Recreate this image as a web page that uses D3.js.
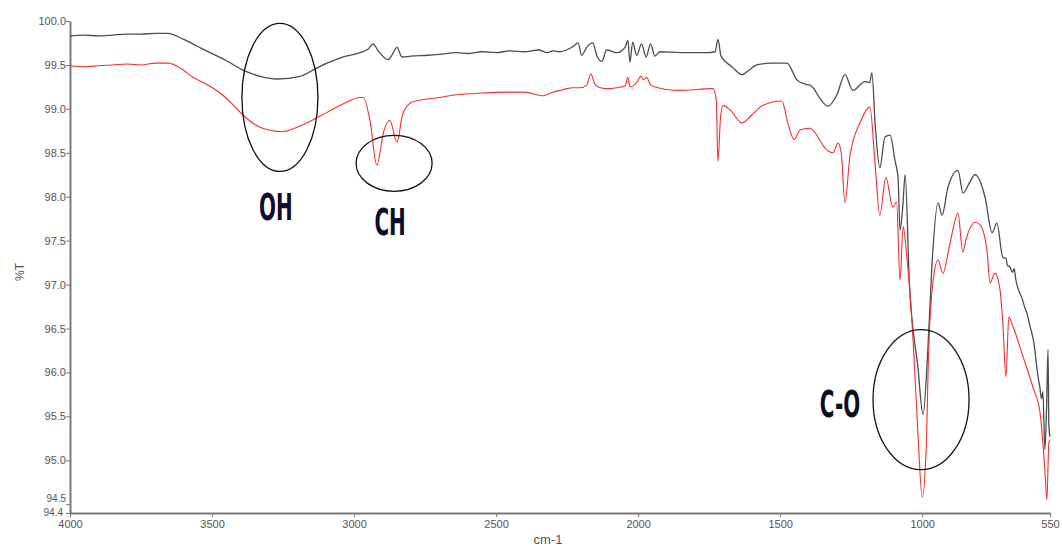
<!DOCTYPE html>
<html>
<head>
<meta charset="utf-8">
<script src="https://cdn.jsdelivr.net/npm/d3@7"></script>
<style>
body { margin: 0; background: #fff; }
svg { display: block; }
</style>
</head>
<body>
<svg id="chart" width="1062" height="548"></svg>
<script>
// wavenumber (cm-1), %T
var blackSpectrum = [
	[4000, 99.83], [3950, 99.84], [3900, 99.83], [3850, 99.84], [3800, 99.85],
	[3750, 99.85], [3700, 99.86], [3655, 99.86], [3600, 99.79], [3550, 99.71],
	[3507, 99.64], [3450, 99.55], [3391, 99.44], [3330, 99.37], [3271, 99.34],
	[3190, 99.37], [3140, 99.45], [3095, 99.52], [3040, 99.59], [2979, 99.64],
	[2950, 99.68], [2933, 99.74], [2915, 99.66], [2880, 99.56], [2865, 99.62],
	[2849, 99.70], [2831, 99.59], [2800, 99.60], [2740, 99.61], [2700, 99.62],
	[2638, 99.64], [2600, 99.63], [2550, 99.65], [2500, 99.64], [2450, 99.66],
	[2400, 99.65], [2350, 99.67], [2320, 99.64], [2300, 99.66], [2275, 99.65],
	[2252, 99.67], [2229, 99.71], [2211, 99.75], [2199, 99.61], [2181, 99.70],
	[2159, 99.75], [2146, 99.61], [2128, 99.54], [2111, 99.67], [2075, 99.64],
	[2046, 99.70], [2036, 99.78], [2029, 99.53], [2019, 99.76], [2005, 99.61],
	[1988, 99.74], [1972, 99.59], [1956, 99.74], [1941, 99.60], [1923, 99.65],
	[1850, 99.64], [1760, 99.64], [1729, 99.65], [1719, 99.79], [1708, 99.60],
	[1670, 99.48], [1634, 99.39], [1610, 99.44], [1582, 99.50], [1530, 99.52],
	[1476, 99.52], [1441, 99.33], [1410, 99.28], [1395, 99.27], [1384, 99.24],
	[1360, 99.12], [1332, 99.03], [1300, 99.16], [1272, 99.39], [1244, 99.21],
	[1201, 99.31], [1185, 99.30], [1177, 99.41], [1165, 98.80], [1149, 98.33],
	[1131, 98.68], [1113, 98.70], [1095, 98.40], [1085, 98.22], [1078, 97.62],
	[1068, 97.90], [1060, 98.25], [1045, 97.02], [1015, 96.06], [997, 95.52],
	[980, 96.26], [966, 97.20], [944, 97.93], [930, 97.79], [909, 98.11],
	[874, 98.30], [856, 98.04], [835, 98.15], [814, 98.25], [779, 98.00],
	[754, 97.59], [737, 97.70], [716, 97.31], [705, 97.30], [700, 97.22],
	[691, 97.20], [682, 97.14], [676, 97.18], [670, 97.05], [656, 96.90],
	[648, 96.84], [640, 96.75], [630, 96.66], [620, 96.52], [612, 96.42],
	[605, 96.30], [598, 96.10], [592, 95.95], [586, 95.84], [580, 95.70],
	[575, 95.78], [568, 95.12], [562, 95.60], [557, 96.26], [554, 95.40],
	[550, 95.27]
];

var redSpectrum = [
	[4000, 99.49], [3950, 99.48], [3900, 99.49], [3850, 99.50], [3800, 99.51],
	[3750, 99.50], [3700, 99.52], [3655, 99.52], [3600, 99.44], [3567, 99.36],
	[3520, 99.28], [3472, 99.18], [3430, 99.06], [3391, 98.93], [3331, 98.79],
	[3254, 98.74], [3180, 98.82], [3095, 98.96], [3030, 99.07], [2979, 99.13],
	[2968, 99.13], [2944, 98.87], [2920, 98.36], [2895, 98.75], [2874, 98.87],
	[2849, 98.62], [2828, 98.95], [2793, 99.08], [2700, 99.13], [2638, 99.16],
	[2550, 99.18], [2462, 99.19], [2400, 99.19], [2335, 99.15], [2300, 99.19],
	[2275, 99.21], [2252, 99.23], [2229, 99.24], [2205, 99.24], [2181, 99.27],
	[2166, 99.40], [2155, 99.30], [2140, 99.25], [2111, 99.23], [2075, 99.24],
	[2046, 99.26], [2036, 99.36], [2029, 99.25], [2005, 99.30], [1990, 99.37],
	[1980, 99.33], [1970, 99.36], [1956, 99.27], [1930, 99.24], [1900, 99.22],
	[1853, 99.21], [1736, 99.23], [1725, 99.10], [1719, 98.40], [1710, 98.90],
	[1701, 99.04], [1677, 98.99], [1634, 98.84], [1600, 98.93], [1560, 99.04],
	[1494, 99.09], [1473, 98.84], [1451, 98.65], [1430, 98.76], [1395, 98.78],
	[1335, 98.53], [1314, 98.50], [1296, 98.61], [1285, 98.50], [1272, 97.93],
	[1254, 98.47], [1219, 98.84], [1184, 99.02], [1166, 98.38], [1149, 97.79],
	[1128, 98.22], [1103, 97.88], [1090, 97.94], [1078, 97.05], [1067, 97.66],
	[1055, 97.35], [1032, 96.37], [1015, 95.31], [1000, 94.58], [986, 95.12],
	[977, 96.26], [958, 97.13], [944, 97.28], [927, 97.13], [902, 97.47],
	[874, 97.81], [857, 97.37], [845, 97.52], [814, 97.71], [796, 97.68],
	[772, 97.39], [761, 97.02], [744, 97.13], [726, 96.94], [716, 96.56],
	[705, 95.95], [695, 96.63], [680, 96.52], [645, 96.18], [610, 95.83],
	[585, 95.54], [568, 94.89], [561, 94.55], [554, 95.20], [550, 95.23]
];

var xTicks = [4000, 3500, 3000, 2500, 2000, 1500, 1000, 550];
var yTicks = [100.0, 99.5, 99.0, 98.5, 98.0, 97.5, 97.0, 96.5, 96.0, 95.5, 95.0, 94.5, 94.4];

// band annotations: ellipse centre + label anchor, in data units
var bandLabels = ["OH", "CH", "C-O"];
var bandCentres = [[3261, 99.13], [2859, 98.38], [1004, 95.69]];
var bandRadii = [[38, 74], [38, 28], [48, 70]];
var bandTextPos = [[3275, 97.735], [2873, 97.56], [1289, 95.49]];

var svg = d3.select("#chart");

var x = d3.scaleLinear().domain([4000, 550]).range([70, 1050]);
var y = d3.scaleLinear().domain([94.4, 100]).range([513, 21]);

var tickFont = "'Liberation Sans', Arial, sans-serif";

// axes
var xAxis = svg.append("g") //
.attr("transform", "translate(0,513)") //
.call(d3.axisBottom(x).tickValues(xTicks).tickSize(4).tickSizeOuter(0).tickFormat(d3.format("d")));

var yAxis = svg.append("g") //
.attr("transform", "translate(70,0)") //
.call(d3.axisLeft(y).tickValues(yTicks).tickSize(4).tickSizeOuter(0).tickFormat(d3.format(".1f")));

[xAxis, yAxis].forEach(function(a) {
	a.select(".domain").attr("stroke", "#7a7a7a").attr("stroke-width", 2);
	a.selectAll(".tick line").attr("stroke", "#7a7a7a");
	a.selectAll("text") //
	.attr("fill", "#555") //
	.style("font-family", tickFont) //
	.style("font-size", "11px");
});
xAxis.selectAll("text").attr("dy", "0.6em").attr("y", 8);
yAxis.selectAll("text").attr("x", -4);

// the two lowest labels sit almost on top of each other, nudge them apart
yAxis.selectAll(".tick text").filter(function(d) { return d === 94.5; }) //
.attr("dy", "-0.25em").style("font-size", "10px");
yAxis.selectAll(".tick text").filter(function(d) { return d === 94.4; }) //
.attr("dy", "0.2em").attr("x", -7).style("font-size", "10px");

// axis titles
svg.append("text") //
.attr("transform", "translate(24,272) rotate(-90)") //
.attr("text-anchor", "middle") //
.attr("fill", "#555") //
.style("font-family", tickFont) //
.style("font-size", "12px") //
.text("%T");

svg.append("text") //
.attr("x", 548) //
.attr("y", 544) //
.attr("text-anchor", "middle") //
.attr("fill", "#555") //
.style("font-family", tickFont) //
.style("font-size", "13px") //
.text("cm-1");

// spectra
var line = d3.line() //
.x(function(d) { return x(d[0]); }) //
.y(function(d) { return y(d[1]); }) //
.curve(d3.curveMonotoneX);

svg.append("path") //
.datum(blackSpectrum) //
.attr("d", line) //
.attr("fill", "none") //
.attr("stroke", "#4d4d4d") //
.attr("stroke-width", 1.3) //
.attr("stroke-linejoin", "round");

svg.append("path") //
.datum(redSpectrum) //
.attr("d", line) //
.attr("fill", "none") //
.attr("stroke", "#ff2a2a") //
.attr("stroke-width", 1.1) //
.attr("stroke-linejoin", "round");

// band ellipses
svg.selectAll("ellipse.band").data(bandCentres).enter().append("ellipse") //
.attr("class", "band") //
.attr("cx", function(d) { return x(d[0]); }) //
.attr("cy", function(d) { return y(d[1]); }) //
.attr("rx", function(d, i) { return bandRadii[i][0]; }) //
.attr("ry", function(d, i) { return bandRadii[i][1]; }) //
.attr("fill", "none") //
.attr("stroke", "#111") //
.attr("stroke-width", 1.3);

// band labels (condensed bold)
svg.selectAll("text.band").data(bandTextPos).enter().append("text") //
.attr("class", "band") //
.attr("transform", function(d) {
	return "translate(" + x(d[0]) + "," + y(d[1]) + ") scale(0.6,1)";
}) //
.attr("text-anchor", "middle") //
.attr("fill", "#0d0d2a") //
.style("font-family", "'DejaVu Sans Condensed', 'DejaVu Sans', sans-serif") //
.style("font-weight", "bold") //
.style("font-size", "37px") //
.text(function(d, i) { return bandLabels[i]; });
</script>
</body>
</html>
